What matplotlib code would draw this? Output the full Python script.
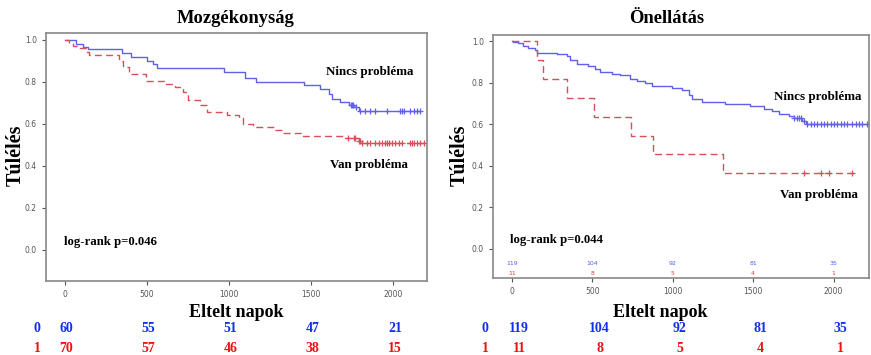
import numpy as np
import matplotlib.pyplot as plt
import matplotlib.transforms as mtransforms

serif = 'Liberation Serif'

# --- Mozgékonyság (mobility) ---
mob_no_t = [0, 67, 108, 142, 345, 400, 502, 538, 563, 970, 1097, 1165, 1457, 1555, 1606, 1626, 1677, 1728, 1758, 1789, 2160]
mob_no_s = [1.0, 0.983, 0.967, 0.955, 0.937, 0.920, 0.901, 0.884, 0.868, 0.849, 0.817, 0.800, 0.786, 0.767, 0.743, 0.719, 0.703, 0.690, 0.680, 0.663, 0.663]
mob_no_cens = [1740, 1748, 1755, 1770, 1799, 1830, 1860, 1890, 1961, 2043, 2053, 2063, 2104, 2124, 2144, 2160]

mob_yes_t = [0, 26, 47, 75, 132, 148, 329, 356, 392, 494, 610, 671, 721, 752, 823, 866, 988, 1060, 1087, 1148, 1280, 1322, 1443, 1707, 1789, 1800, 2185]
mob_yes_s = [1.0, 0.986, 0.973, 0.960, 0.944, 0.929, 0.900, 0.873, 0.840, 0.806, 0.790, 0.775, 0.751, 0.714, 0.690, 0.659, 0.643, 0.627, 0.600, 0.584, 0.571, 0.556, 0.543, 0.532, 0.520, 0.511, 0.511]
mob_yes_cens = [1726, 1758, 1768, 1789, 1799, 1809, 1840, 1860, 1890, 1911, 1931, 1951, 1961, 1972, 1992, 2012, 2033, 2053, 2104, 2114, 2124, 2144, 2165, 2185]

mob_risk_no = [60, 55, 51, 47, 21]
mob_risk_yes = [70, 57, 46, 38, 15]

# --- Önellátás (self-care) ---
self_no_t = [0, 8, 39, 70, 101, 143, 154, 278, 341, 361, 407, 475, 517, 548, 621, 673, 735, 777, 829, 870, 995, 1057, 1099, 1120, 1182, 1327, 1483, 1565, 1618, 1660, 1722, 1753, 1805, 1826, 2210]
self_no_s = [1.0, 0.997, 0.990, 0.980, 0.968, 0.960, 0.945, 0.941, 0.928, 0.912, 0.889, 0.880, 0.866, 0.853, 0.845, 0.837, 0.820, 0.809, 0.801, 0.785, 0.777, 0.764, 0.740, 0.724, 0.708, 0.700, 0.688, 0.676, 0.664, 0.652, 0.641, 0.633, 0.617, 0.604, 0.604]
self_no_cens = [1753, 1770, 1784, 1799, 1815, 1836, 1857, 1878, 1898, 1919, 1940, 1961, 1982, 2003, 2024, 2044, 2065, 2086, 2117, 2138, 2158, 2179, 2210]

self_yes_t = [0, 153, 195, 341, 511, 740, 880, 1313, 2127]
self_yes_s = [1.0, 0.909, 0.818, 0.727, 0.636, 0.545, 0.455, 0.364, 0.364]
self_yes_cens = [1817, 1920, 1972, 2117]

self_risk_no = [119, 104, 92, 81, 35]
self_risk_yes = [11, 8, 5, 4, 1]

risk_times = [0, 500, 1000, 1500, 2000]

blue = '#6060ea'
red = '#d6505c'
blue_txt = '#1030f0'
red_txt = '#f01010'


def surv_at(t, s, x):
    idx = np.searchsorted(t, x, side='right') - 1
    return np.array(s)[idx]


def km_panel(ax, no_t, no_s, no_c, yes_t, yes_s, yes_c):
    ax.step(no_t, no_s, where='post', color=blue, lw=1.0)
    ax.plot(no_c, surv_at(no_t, no_s, no_c), '+', color=blue, ms=4, mew=0.9)
    ax.step(yes_t, yes_s, where='post', color=red, lw=1.0, dashes=(5, 3))
    ax.plot(yes_c, surv_at(yes_t, yes_s, yes_c), '+', color=red, ms=4, mew=0.9)
    ax.set_xticks(risk_times)
    ax.set_yticks([0.0, 0.2, 0.4, 0.6, 0.8, 1.0])
    ax.set_yticklabels(['0.0', '0.2', '0.4', '0.6', '0.8', '1.0'])
    ax.tick_params(labelsize=5.5, colors='#555555', length=3, width=0.8)
    for sp in ax.spines.values():
        sp.set_color('#888888')
        sp.set_linewidth(1.2)


fig = plt.figure(figsize=(8.71, 3.55), dpi=100)

ax1 = fig.add_axes([0.0528, 0.2085, 0.4375, 0.6985])
km_panel(ax1, mob_no_t, mob_no_s, mob_no_cens, mob_yes_t, mob_yes_s, mob_yes_cens)
ax1.set_xlim(-115, 2205)
ax1.set_ylim(-0.148, 1.033)

ax2 = fig.add_axes([0.566, 0.217, 0.432, 0.684])
km_panel(ax2, self_no_t, self_no_s, self_no_cens, self_yes_t, self_yes_s, self_yes_cens)
ax2.set_xlim(-118, 2222)
ax2.set_ylim(-0.14, 1.03)

bold = dict(family=serif, fontweight='bold')

# titles and axis labels
fig.text(0.271, 0.949, 'Mozgékonyság', ha='center', va='center', fontsize=13.3, **bold)
fig.text(0.766, 0.949, 'Önellátás', ha='center', va='center', fontsize=13.3, **bold)
fig.text(0.018, 0.563, 'Túlélés', rotation=90, ha='center', va='center', fontsize=14.5, **bold)
fig.text(0.528, 0.563, 'Túlélés', rotation=90, ha='center', va='center', fontsize=14.5, **bold)
fig.text(0.271, 0.121, 'Eltelt napok', ha='center', va='center', fontsize=13, **bold)
fig.text(0.758, 0.121, 'Eltelt napok', ha='center', va='center', fontsize=13, **bold)

# curve labels
ax1.text(1854, 0.848, 'Nincs probléma', ha='center', va='center', fontsize=9.4, **bold)
ax1.text(1854, 0.405, 'Van probléma', ha='center', va='center', fontsize=9.4, **bold)
ax1.text(-6, 0.04, 'log-rank p=0.046', ha='left', va='center', fontsize=9.2, **bold)
ax2.text(1900, 0.73, 'Nincs probléma', ha='center', va='center', fontsize=9.4, **bold)
ax2.text(1906, 0.26, 'Van probléma', ha='center', va='center', fontsize=9.4, **bold)
ax2.text(-12, 0.043, 'log-rank p=0.044', ha='left', va='center', fontsize=9.2, **bold)

# small number-at-risk inside right panel
for t, a, b in zip(risk_times, self_risk_no, self_risk_yes):
    ax2.text(t, -0.068, str(a), ha='center', va='center', fontsize=4.5, color='#5a5ae8')
    ax2.text(t, -0.118, str(b), ha='center', va='center', fontsize=4.5, color='#d04050')

# number-at-risk tables below
for ax, rn, ry, off in [(ax1, mob_risk_no, mob_risk_yes, 10), (ax2, self_risk_no, self_risk_yes, 45)]:
    tr = mtransforms.blended_transform_factory(ax.transData, fig.transFigure)
    ax.text(-168, 0.076, '0', transform=tr, ha='center', va='center', fontsize=10, color=blue_txt, clip_on=False, **bold)
    ax.text(-168, 0.017, '1', transform=tr, ha='center', va='center', fontsize=10, color=red_txt, clip_on=False, **bold)
    for t, a, b in zip(risk_times, rn, ry):
        ax.text(t + off, 0.076, str(a), transform=tr, ha='center', va='center', fontsize=10, color=blue_txt, clip_on=False, **bold)
        ax.text(t + off, 0.017, str(b), transform=tr, ha='center', va='center', fontsize=10, color=red_txt, clip_on=False, **bold)

fig.savefig('out.png', dpi=100)
